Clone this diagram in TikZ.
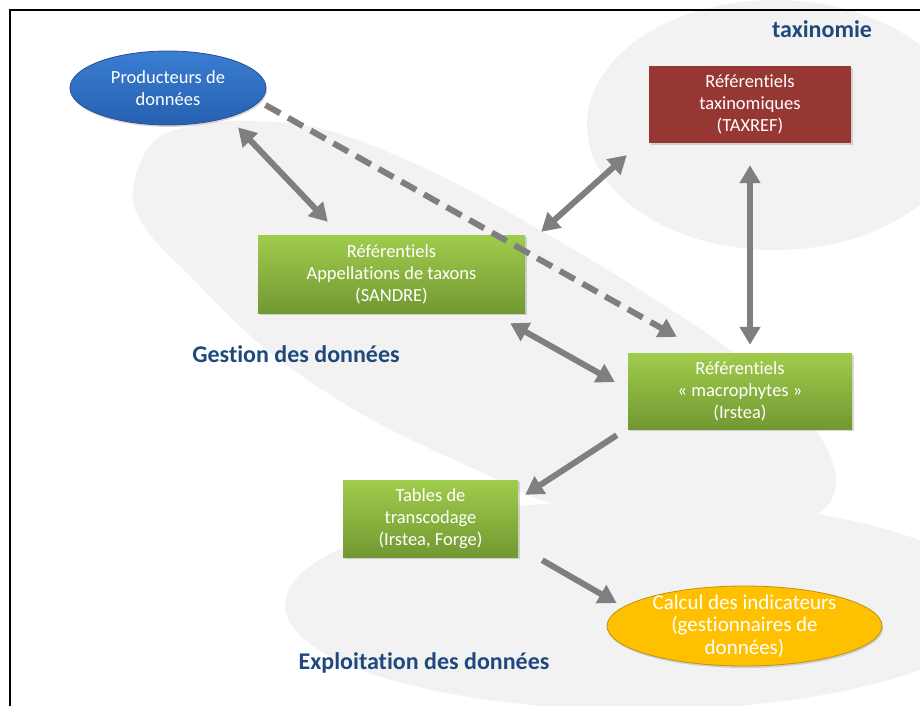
\documentclass[tikz,border=0pt]{standalone}
\usepackage{fontspec}
\setmainfont{Carlito}[Ligatures=NoCommon]
\usetikzlibrary{positioning,calc,shapes.geometric,arrows.meta,shadows}
\definecolor{blobgrey}{RGB}{242, 242, 242}
\definecolor{arrowgrey}{RGB}{127, 127, 127}
\definecolor{titleblue}{RGB}{31, 73, 125}
\definecolor{greentop}{RGB}{160, 204, 76}
\definecolor{greenbottom}{RGB}{114, 152, 50}
\definecolor{producertop}{RGB}{58, 126, 210}
\definecolor{producerbottom}{RGB}{38, 96, 176}
\definecolor{producerborder}{RGB}{40, 80, 150}
\definecolor{taxrefred}{RGB}{150, 55, 52}
\definecolor{indicatororange}{RGB}{255, 192, 0}
\definecolor{indicatorborder}{RGB}{190, 145, 20}

\begin{document}
\begin{tikzpicture}[x=1pt, y=-1pt,
blob/.style={fill=blobgrey},
boxtext/.style={align=center, text=white, font=\fontsize{18.5}{22}\selectfont},
greennode/.style={rectangle, boxtext, top color=greentop, bottom color=greenbottom, inner sep=0pt, drop shadow={shadow xshift=1.5pt, shadow yshift=-2pt, opacity=0.3}},
taxrefnode/.style={rectangle, boxtext, fill=taxrefred, inner sep=0pt, minimum width=202pt, minimum height=77pt, drop shadow={shadow xshift=1.5pt, shadow yshift=-2pt, opacity=0.3}},
producernode/.style={ellipse, boxtext, top color=producertop, bottom color=producerbottom, draw=producerborder, line width=0.8pt, inner sep=0pt, minimum width=196pt, minimum height=74pt, drop shadow={shadow xshift=1pt, shadow yshift=-2pt, opacity=0.3}},
indicatornode/.style={ellipse, boxtext, font=\fontsize{21}{22.5}\selectfont, fill=indicatororange, draw=indicatorborder, line width=0.8pt, inner xsep=-4pt, inner ysep=-10pt, minimum width=275pt, minimum height=80pt, drop shadow={shadow xshift=1pt, shadow yshift=-2pt, opacity=0.3}},
titletext/.style={text=titleblue, font=\fontsize{24}{28}\selectfont\bfseries, inner sep=0pt},
twoway/.style={draw=arrowgrey, line width=6pt, {Triangle[width=20pt,length=18pt]}-{Triangle[width=20pt,length=18pt]}},
oneway/.style={draw=arrowgrey, line width=6pt, -{Triangle[width=20pt,length=18pt]}},
dashway/.style={oneway, dash pattern=on 17pt off 9pt}
]
\useasboundingbox (0,0) rectangle (920,706);

%Background blobs
\fill[blob] (775,125) ellipse [x radius=188, y radius=125];
\fill[blob] (640,605) ellipse [x radius=355, y radius=105];
\fill[blob] plot[smooth cycle, tension=0.6] coordinates {(133,190) (152,143) (192,126) (250,121) (330,131) (433,172) (533,226) (640,290) (733,352) (800,410) (833,463) (830,502) (790,524) (700,524) (560,505) (490,476) (367,417) (267,350) (190,276) (145,228)};

%Frame
\draw[line width=1.2pt] (10,706) -- (10,10) -- (920,10);

%Nodes
\node[producernode] 										(producer_node) at (168,88) {Producteurs de\\données};
\node[taxrefnode] 											(taxref_node) at (750,104.5) {Référentiels\\taxinomiques\\(TAXREF)};
\node[greennode, minimum width=267pt, minimum height=78pt] 	(sandre_node) at (391.5,274) {Référentiels\\Appellations de taxons\\(SANDRE)};
\node[greennode, minimum width=224pt, minimum height=76pt] 	(macrophyte_node) at (740,391) {Référentiels\\« macrophytes »\\(Irstea)};
\node[greennode, minimum width=175pt, minimum height=77pt] 	(transcoding_node) at (430.5,518.5) {Tables de\\transcodage\\(Irstea, Forge)};
\node[indicatornode] 										(indicator_node) at (744.5,626) {Calcul des indicateurs\\(gestionnaires de\\données)};

%Nodes titles
\node[titletext] 	(taxonomy_text) at (822,29) {taxinomie};
\node[titletext] 	(management_text) at (296,354) {Gestion des données};
\node[titletext] 	(exploitation_text) at (424,663) {Exploitation des données};

%Arrow
%Arrow between producers and references
\draw [twoway] ($(producer_node.south)+(70,2)$) -- ($(sandre_node.north west)+(70,-13)$);
\draw [dashway] ($(producer_node.east)+(-1,17)$) -- ($(macrophyte_node.north west)+(49,-16)$);

%Arrow between references
\draw [twoway] ($(sandre_node.north east)+(16,-3)$) -- ($(taxref_node.south west)+(-22,12)$);
\draw [twoway] ($(taxref_node.south)+(0,22)$) -- ($(taxref_node.south |- macrophyte_node.north)+(0,-8)$);
\draw [twoway] ($(sandre_node.south east)+(-15,10)$) -- ($(macrophyte_node.west)+(-13,-9)$);

%Arrow towards exploitation
\draw [oneway] ($(macrophyte_node.south west)+(-11,6)$) -- ($(transcoding_node.north east)+(7,15)$);
\draw [oneway] ($(transcoding_node.south east)+(24,3)$) -- ($(indicator_node.west)+(10,-23)$);

\end{tikzpicture}
\end{document}
